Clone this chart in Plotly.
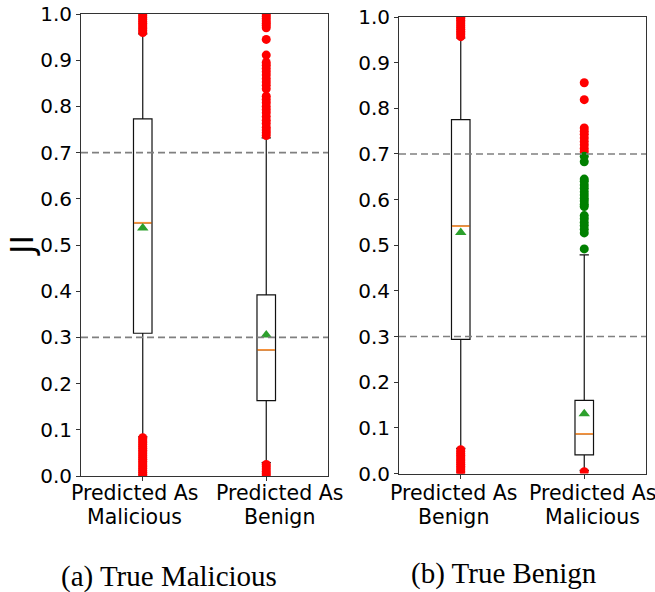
import plotly.graph_objects as go

# ---------------- data ----------------
positions = [1, 2]
labels_a = [["Predicted As", "Malicious"], ["Predicted As", "Benign"]]
labels_b = [["Predicted As", "Benign"], ["Predicted As", "Malicious"]]
captions = ["(a) True Malicious", "(b) True Benign"]
y_label = "JI"
ytick_vals = [0.0, 0.1, 0.2, 0.3, 0.4, 0.5, 0.6, 0.7, 0.8, 0.9, 1.0]
threshold_lines = [0.3, 0.7]

# panel (a): box statistics
a_q1 = [0.309, 0.163]
a_med = [0.548, 0.273]
a_q3 = [0.773, 0.392]
a_lo = [0.085, 0.029]
a_hi = [0.957, 0.732]
a_mean = [0.537, 0.305]

# panel (b): box statistics
b_q1 = [0.294, 0.041]
b_med = [0.542, 0.087]
b_q3 = [0.775, 0.160]
b_lo = [0.055, 0.007]
b_hi = [0.954, 0.479]
b_mean = [0.528, 0.131]

# outliers (red)
a1_out = [0.960, 0.964, 0.968, 0.972, 0.976, 0.980, 0.984, 0.988, 0.992, 0.996, 1.0,
          0.0, 0.004, 0.008, 0.012, 0.016, 0.020, 0.024, 0.028, 0.032, 0.036, 0.040,
          0.044, 0.048, 0.052, 0.056, 0.060, 0.064, 0.068, 0.072, 0.076, 0.080, 0.083]
a2_out = [1.0, 0.995, 0.99, 0.985, 0.98, 0.975, 0.97, 0.945, 0.911,
          0.895, 0.889, 0.882, 0.875, 0.868, 0.86, 0.853, 0.846, 0.838,
          0.822, 0.815, 0.808, 0.80, 0.793, 0.786, 0.778, 0.77, 0.763,
          0.755, 0.749, 0.743, 0.737,
          0.0, 0.005, 0.01, 0.015, 0.02, 0.025]
b1_out = [0.957, 0.961, 0.965, 0.969, 0.973, 0.977, 0.981, 0.985, 0.989, 0.993, 0.997, 1.0,
          0.0, 0.004, 0.008, 0.012, 0.016, 0.020, 0.024, 0.028, 0.032, 0.036, 0.040,
          0.044, 0.048, 0.052]
b2_out_red = [0.856, 0.819, 0.757, 0.750, 0.743, 0.735, 0.727, 0.720, 0.712, 0.705, 0.004]
# outliers (green)
b2_out_green = [0.695, 0.683, 0.645, 0.640, 0.632, 0.625, 0.617, 0.610, 0.603, 0.597,
                0.590, 0.585, 0.565, 0.558, 0.550, 0.543, 0.535, 0.527, 0.492]

# ---------------- figure ----------------
BOX_W = 0.15
fig = go.Figure()


def add_panel(xa, ya, q1, med, q3, lo, hi, mean, outs):
    fig.add_trace(go.Box(
        x=positions, q1=q1, median=med, q3=q3, lowerfence=lo, upperfence=hi,
        width=BOX_W, whiskerwidth=0.5, boxpoints=False,
        line=dict(color="#111111", width=1.2), fillcolor="rgba(0,0,0,0)",
        showlegend=False, hoverinfo="skip", xaxis=xa, yaxis=ya))
    mx, my = [], []
    for p, m in zip(positions, med):
        mx += [p - BOX_W / 2 + 0.004, p + BOX_W / 2 - 0.004, None]
        my += [m, m, None]
    fig.add_trace(go.Scatter(x=mx, y=my, mode="lines",
                             line=dict(color="#f5913a", width=1.8),
                             showlegend=False, xaxis=xa, yaxis=ya))
    fig.add_trace(go.Scatter(x=positions, y=mean, mode="markers",
                             marker=dict(symbol="triangle-up", color="#2ca02c", size=10),
                             showlegend=False, xaxis=xa, yaxis=ya))
    for p, vals, col in outs:
        fig.add_trace(go.Scatter(x=[p] * len(vals), y=vals, mode="markers",
                                 marker=dict(color=col, size=9, line=dict(width=0)),
                                 showlegend=False, xaxis=xa, yaxis=ya))


add_panel("x", "y", a_q1, a_med, a_q3, a_lo, a_hi, a_mean,
          [(1, a1_out, "red"), (2, a2_out, "red")])
add_panel("x2", "y2", b_q1, b_med, b_q3, b_lo, b_hi, b_mean,
          [(1, b1_out, "red"), (2, b2_out_red, "red"), (2, b2_out_green, "green")])

tickfont = dict(family="DejaVu Sans", size=20, color="black")
common_x = dict(range=[0.5, 2.5], tickvals=positions, ticks="outside", ticklen=4,
                tickcolor="#333", showline=True, mirror=True, linecolor="#333",
                linewidth=1, showgrid=False, zeroline=False, showticklabels=False,
                automargin=False)
common_y = dict(range=[0, 1], tickvals=ytick_vals, tickformat=".1f", ticks="outside",
                ticklen=4, tickcolor="#333", showline=True, mirror=True,
                linecolor="#333", linewidth=1, showgrid=False, zeroline=False,
                tickfont=tickfont, automargin=False)

fig.update_layout(
    width=655, height=592,
    margin=dict(l=0, r=0, t=0, b=0),
    paper_bgcolor="white", plot_bgcolor="white",
    xaxis=dict(domain=[81 / 655, 328 / 655], anchor="y", **common_x),
    yaxis=dict(domain=[(592 - 476) / 592, (592 - 14) / 592], anchor="x", **common_y),
    xaxis2=dict(domain=[399 / 655, 646 / 655], anchor="y2", **common_x),
    yaxis2=dict(domain=[(592 - 473.5) / 592, (592 - 17) / 592], anchor="x2", **common_y),
)

for xr, yr in (("x", "y"), ("x2", "y2")):
    for v in threshold_lines:
        fig.add_shape(type="line", xref=f"{xr} domain", yref=yr, x0=0, x1=1, y0=v, y1=v,
                      line=dict(color="#808080", width=1.6, dash="7px,4px"), layer="above")

# category labels (two lines each, under the tick positions)
label_font = dict(family="DejaVu Sans", size=20.5, color="black")
line_y_px = [493, 516.5]
for xr, labels, shifts in (("x", labels_a, [-8, 13]), ("x2", labels_b, [-7, 8])):
    for p, lines, dx in zip(positions, labels, shifts):
        for line, ypx in zip(lines, line_y_px):
            fig.add_annotation(text=line, xref=xr, x=p, xshift=dx,
                               yref="paper", y=(592 - ypx) / 592,
                               xanchor="center", yanchor="middle", showarrow=False,
                               font=label_font)

fig.add_annotation(text=y_label, xref="paper", yref="paper", x=22 / 655, y=(592 - 246) / 592,
                   xanchor="center", yanchor="middle", showarrow=False, textangle=-90,
                   font=dict(family="DejaVu Sans", size=32, color="black"))
fig.add_annotation(text=captions[0], xref="paper", yref="paper", x=169 / 655, y=(592 - 576) / 592,
                   xanchor="center", yanchor="middle", showarrow=False,
                   font=dict(family="Liberation Serif", size=29, color="black"))
fig.add_annotation(text=captions[1], xref="paper", yref="paper", x=504 / 655, y=(592 - 573) / 592,
                   xanchor="center", yanchor="middle", showarrow=False,
                   font=dict(family="Liberation Serif", size=29, color="black"))

fig.write_html("out.html")
